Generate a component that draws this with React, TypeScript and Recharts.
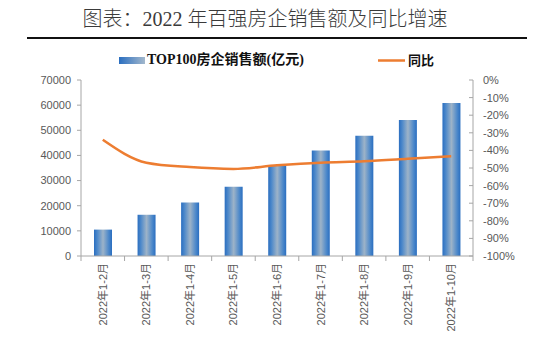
import React from 'react';
import { ComposedChart, Bar, Line, XAxis, YAxis, Legend } from 'recharts';

const categories = ['2022年1-2月', '2022年1-3月', '2022年1-4月', '2022年1-5月', '2022年1-6月', '2022年1-7月', '2022年1-8月', '2022年1-9月', '2022年1-10月'];
const sales = [10500, 16400, 21300, 27500, 36000, 42000, 47800, 54100, 60900];
const yoy = [-34, -47, -49.5, -50.5, -48.5, -47, -46.2, -44.8, -43.3];
const leftTicks = [0, 10000, 20000, 30000, 40000, 50000, 60000, 70000];
const rightTicks = [-100, -90, -80, -70, -60, -50, -40, -30, -20, -10, 0];

const data = categories.map((c, i) => ({ name: c, sales: sales[i], yoy: yoy[i] }));

const AXIS = '#A6A6A6';
const TICK = '#595959';
const ORANGE = '#ED7D31';
const FONT = '"Liberation Sans", "Noto Sans CJK SC", sans-serif';

const XTick = (props: any) => {
  const { x, y, payload, index, width, visibleTicksCount } = props;
  const n = visibleTicksCount || categories.length;
  const half = width ? width / n / 2 : 21.8;
  return (
    <g>
      <line x1={x + half} x2={x + half} y1={y} y2={y + 5} stroke={AXIS} strokeWidth={1} />
      {index === 0 && <line x1={x - half} x2={x - half} y1={y} y2={y + 5} stroke={AXIS} strokeWidth={1} />}
      <text
        transform={`translate(${x + 4},${y + 7}) rotate(-90)`}
        textAnchor="end"
        fontSize={11}
        fill={TICK}
        fontFamily={FONT}
      >
        {payload.value}
      </text>
    </g>
  );
};

const LegendContent = () => (
  <div style={{ position: 'relative', width: 554, height: 24 }}>
    <svg style={{ position: 'absolute', left: 119, top: 9 }} width={26} height={7}>
      <defs>
        <linearGradient id="lg" x1="0" y1="0" x2="1" y2="0">
          <stop offset="0" stopColor="#2A6EC0" />
          <stop offset="1" stopColor="#A3B8CC" />
        </linearGradient>
      </defs>
      <rect x={0} y={0} width={26} height={7} fill="url(#lg)" />
    </svg>
    <div style={{ position: 'absolute', left: 147, top: 3, fontSize: 14, fontWeight: 'bold', fontFamily: '"Liberation Serif", "Noto Sans CJK SC", serif', color: '#111', whiteSpace: 'nowrap', lineHeight: '18px' }}>
      TOP100房企销售额(亿元)
    </div>
    <svg style={{ position: 'absolute', left: 378, top: 11 }} width={27} height={3}>
      <line x1={0} x2={27} y1={1.5} y2={1.5} stroke={ORANGE} strokeWidth={2.5} />
    </svg>
    <div style={{ position: 'absolute', left: 408, top: 3, fontSize: 13, fontWeight: 'bold', fontFamily: '"Noto Sans CJK SC", sans-serif', color: '#111', whiteSpace: 'nowrap', lineHeight: '18px' }}>
      同比
    </div>
  </div>
);

export default function App() {
  return (
    <div style={{ position: 'absolute', left: 0, top: 0, width: 554, height: 341, background: '#fff' }}>
      <div style={{ position: 'absolute', left: 0, top: 5, width: 530, textAlign: 'center', fontSize: 20, fontWeight: 300, fontFamily: '"Liberation Serif", "Noto Sans CJK SC", serif', color: '#3a3a3a', whiteSpace: 'nowrap', lineHeight: '28px' }}>
        图表：2022 年百强房企销售额及同比增速
      </div>
      <div style={{ position: 'absolute', left: 27, top: 37, width: 500, height: 2, background: '#111' }} />
      <div style={{ position: 'absolute', left: 0, top: 0 }}>
        <ComposedChart width={554} height={341} data={data} margin={{ top: 56, right: 0, bottom: 0, left: 0 }} barCategoryGap={0}>
          <defs>
            <linearGradient id="barg" x1="0" y1="0" x2="1" y2="0">
              <stop offset="0" stopColor="#2A6EC0" />
              <stop offset="0.18" stopColor="#4C88CA" />
              <stop offset="0.5" stopColor="#9DB3C8" />
              <stop offset="0.82" stopColor="#4C88CA" />
              <stop offset="1" stopColor="#2A6EC0" />
            </linearGradient>
          </defs>
          <XAxis
            dataKey="name"
            height={85}
            interval={0}
            tickLine={false}
            tickSize={0}
            tickMargin={0}
            axisLine={{ stroke: AXIS }}
            tick={<XTick />}
          />
          <YAxis
            yAxisId="left"
            orientation="left"
            width={81}
            domain={[0, 70000]}
            ticks={leftTicks}
            interval={0}
            tickSize={4}
            tickMargin={6}
            axisLine={{ stroke: AXIS }}
            tickLine={{ stroke: AXIS }}
            tick={{ fontSize: 11, fill: TICK, fontFamily: FONT }}
          />
          <YAxis
            yAxisId="right"
            orientation="right"
            width={81}
            domain={[-100, 0]}
            ticks={rightTicks}
            interval={0}
            tickSize={-4}
            tickMargin={14}
            axisLine={{ stroke: AXIS }}
            tickLine={{ stroke: AXIS }}
            tickFormatter={(v: number) => `${v}%`}
            tick={{ fontSize: 11, fill: TICK, fontFamily: FONT, textAnchor: 'start' }}
          />
          <Legend verticalAlign="top" align="left" wrapperStyle={{ top: 48, left: 0, width: 554 }} content={<LegendContent />} />
          <Bar yAxisId="left" dataKey="sales" barSize={18} fill="url(#barg)" isAnimationActive={false} />
          <Line yAxisId="right" dataKey="yoy" type="monotone" stroke={ORANGE} strokeWidth={2.5} dot={false} activeDot={false} isAnimationActive={false} />
        </ComposedChart>
      </div>
    </div>
  );
}
